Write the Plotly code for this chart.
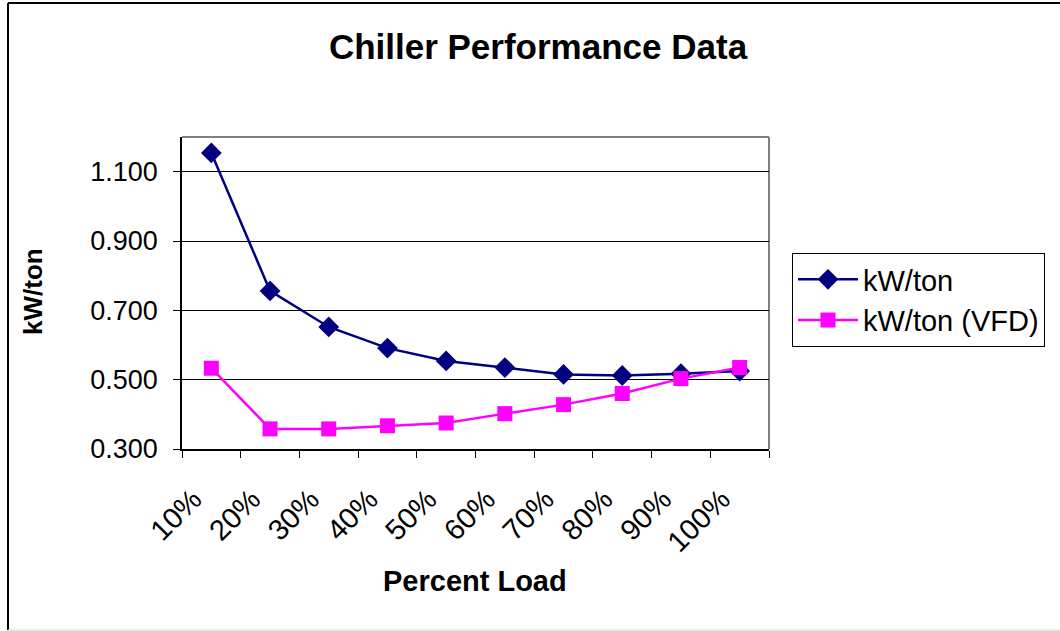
import plotly.graph_objects as go

categories = ["10%", "20%", "30%", "40%", "50%", "60%", "70%", "80%", "90%", "100%"]
kw_per_ton = [1.154, 0.756, 0.652, 0.591, 0.554, 0.535, 0.515, 0.512, 0.517, 0.525]
kw_per_ton_vfd = [0.533, 0.358, 0.358, 0.367, 0.375, 0.402, 0.428, 0.460, 0.503, 0.535]
y_ticks = [0.3, 0.5, 0.7, 0.9, 1.1]

W, H = 1060, 631
L, R, T, B = 182, 769, 137, 449
pw, ph = R - L, B - T

def px(x):
    return (x - L) / pw

def py(y):
    return (B - y) / ph

FONT = "Liberation Sans, Arial, sans-serif"

fig = go.Figure()
fig.add_trace(go.Scatter(
    x=categories, y=kw_per_ton, name="kW/ton", mode="lines+markers",
    line=dict(color="#000080", width=2.5),
    marker=dict(symbol="diamond", size=16, color="#000080"),
))
fig.add_trace(go.Scatter(
    x=categories, y=kw_per_ton_vfd, name="kW/ton (VFD)", mode="lines+markers",
    line=dict(color="#FF00FF", width=2.5),
    marker=dict(symbol="square", size=15, color="#FF00FF"),
))

fig.update_layout(
    width=W, height=H,
    margin=dict(l=L, r=W - R, t=T, b=H - B, pad=0),
    paper_bgcolor="white", plot_bgcolor="white",
    font=dict(family=FONT, color="black", size=27),
    title=dict(text="<b>Chiller Performance Data</b>", x=538 / W, xanchor="center",
               y=1 - 47 / H, yanchor="middle", font=dict(size=35, family=FONT)),
    showlegend=True,
    legend=dict(x=px(792), y=py(253), xanchor="left", yanchor="top",
                bordercolor="black", borderwidth=1, bgcolor="white",
                font=dict(size=29, family=FONT), itemwidth=60),
    xaxis=dict(
        type="category", range=[-0.5, 9.5], tickson="boundaries",
        ticks="outside", ticklen=7, tickcolor="black", tickwidth=1,
        showline=True, linecolor="black", linewidth=1.5,
        showgrid=False, tickangle=-45, tickfont=dict(size=29),
        ticklabelstandoff=20, ticklabelshift=-18, fixedrange=True,
    ),
    yaxis=dict(
        range=[0.3, 1.2], tickvals=y_ticks, tickformat=".3f",
        ticks="outside", ticklen=7, tickcolor="black", tickwidth=1,
        showline=True, linecolor="black", linewidth=1.5,
        showgrid=True, gridcolor="black", gridwidth=1,
        tickfont=dict(size=27), zeroline=False, ticklabelstandoff=10,
    ),
)

# gray plot-area border (top and right)
fig.add_shape(type="line", xref="paper", yref="paper", x0=0, x1=1, y0=1, y1=1,
              line=dict(color="#808080", width=2), layer="below")
fig.add_shape(type="line", xref="paper", yref="paper", x0=1, x1=1, y0=0, y1=1,
              line=dict(color="#808080", width=2), layer="below")

# chart outer border
fig.add_shape(type="line", xref="paper", yref="paper", x0=px(8), x1=px(8), y0=py(630), y1=py(3),
              line=dict(color="black", width=2))
fig.add_shape(type="line", xref="paper", yref="paper", x0=px(8), x1=px(1060), y0=py(3), y1=py(3),
              line=dict(color="black", width=2))
fig.add_shape(type="line", xref="paper", yref="paper", x0=px(8), x1=px(1060), y0=py(630), y1=py(630),
              line=dict(color="#d0d0d0", width=1))

# axis titles
fig.add_annotation(text="<b>Percent Load</b>", xref="paper", yref="paper",
                   x=px(475), y=py(581), xanchor="center", yanchor="middle",
                   showarrow=False, font=dict(size=29, family=FONT))
fig.add_annotation(text="<b>kW/ton</b>", xref="paper", yref="paper",
                   x=px(33), y=py(292), xanchor="center", yanchor="middle",
                   textangle=-90, showarrow=False, font=dict(size=26, family=FONT))

fig.write_html("out.html")
